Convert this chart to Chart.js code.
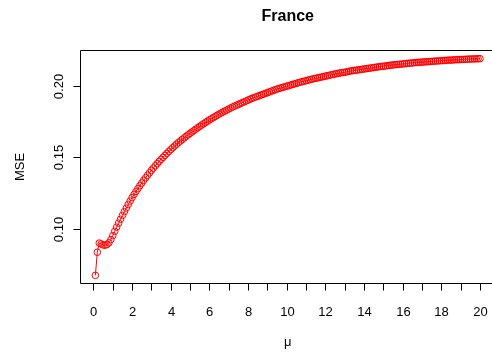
<!DOCTYPE html>
<html>
<head>
<meta charset="utf-8">
<script src="https://cdn.jsdelivr.net/npm/chart.js@4/dist/chart.umd.min.js"></script>
<style>
  html, body { margin: 0; padding: 0; background: #fff; }
  canvas { display: block; }
</style>
</head>
<body>
<canvas id="franceMse" width="492" height="358"></canvas>
<script>
const Title = 'France';
const XTitle = 'μ';
const YTitle = 'MSE';

// mu grid (x) and MSE values
const Mu = [
  0.1, 0.2, 0.3, 0.4, 0.5, 0.6, 0.7, 0.8, 0.9, 1.0,
  1.1, 1.2, 1.3, 1.4, 1.5, 1.6, 1.7, 1.8, 1.9, 2.0,
  2.1, 2.2, 2.3, 2.4, 2.5, 2.6, 2.7, 2.8, 2.9, 3.0,
  3.1, 3.2, 3.3, 3.4, 3.5, 3.6, 3.7, 3.8, 3.9, 4.0,
  4.1, 4.2, 4.3, 4.4, 4.5, 4.6, 4.7, 4.8, 4.9, 5.0,
  5.1, 5.2, 5.3, 5.4, 5.5, 5.6, 5.7, 5.8, 5.9, 6.0,
  6.1, 6.2, 6.3, 6.4, 6.5, 6.6, 6.7, 6.8, 6.9, 7.0,
  7.1, 7.2, 7.3, 7.4, 7.5, 7.6, 7.7, 7.8, 7.9, 8.0,
  8.1, 8.2, 8.3, 8.4, 8.5, 8.6, 8.7, 8.8, 8.9, 9.0,
  9.1, 9.2, 9.3, 9.4, 9.5, 9.6, 9.7, 9.8, 9.9, 10.0,
  10.1, 10.2, 10.3, 10.4, 10.5, 10.6, 10.7, 10.8, 10.9, 11.0,
  11.1, 11.2, 11.3, 11.4, 11.5, 11.6, 11.7, 11.8, 11.9, 12.0,
  12.1, 12.2, 12.3, 12.4, 12.5, 12.6, 12.7, 12.8, 12.9, 13.0,
  13.1, 13.2, 13.3, 13.4, 13.5, 13.6, 13.7, 13.8, 13.9, 14.0,
  14.1, 14.2, 14.3, 14.4, 14.5, 14.6, 14.7, 14.8, 14.9, 15.0,
  15.1, 15.2, 15.3, 15.4, 15.5, 15.6, 15.7, 15.8, 15.9, 16.0,
  16.1, 16.2, 16.3, 16.4, 16.5, 16.6, 16.7, 16.8, 16.9, 17.0,
  17.1, 17.2, 17.3, 17.4, 17.5, 17.6, 17.7, 17.8, 17.9, 18.0,
  18.1, 18.2, 18.3, 18.4, 18.5, 18.6, 18.7, 18.8, 18.9, 19.0,
  19.1, 19.2, 19.3, 19.4, 19.5, 19.6, 19.7, 19.8, 19.9, 20.0
];
const Mse = [
  0.0678, 0.0839, 0.0903, 0.0897, 0.0890, 0.0888, 0.0893, 0.0905, 0.0927, 0.0955,
  0.0985, 0.1014, 0.1042, 0.1069, 0.1096, 0.1122, 0.1147, 0.1172, 0.1196, 0.1220,
  0.1242, 0.1263, 0.1283, 0.1303, 0.1322, 0.1341, 0.1359, 0.1376, 0.1393, 0.1410,
  0.1426, 0.1442, 0.1457, 0.1472, 0.1487, 0.1501, 0.1515, 0.1529, 0.1542, 0.1555,
  0.1568, 0.1580, 0.1592, 0.1604, 0.1615, 0.1626, 0.1637, 0.1648, 0.1658, 0.1668,
  0.1678, 0.1688, 0.1698, 0.1708, 0.1717, 0.1726, 0.1735, 0.1744, 0.1753, 0.1762,
  0.1770, 0.1778, 0.1786, 0.1794, 0.1802, 0.1810, 0.1817, 0.1824, 0.1831, 0.1838,
  0.1845, 0.1852, 0.1858, 0.1864, 0.1870, 0.1876, 0.1882, 0.1888, 0.1894, 0.1900,
  0.1906, 0.1912, 0.1917, 0.1922, 0.1927, 0.1932, 0.1937, 0.1942, 0.1947, 0.1952,
  0.1957, 0.1962, 0.1967, 0.1972, 0.1977, 0.1981, 0.1985, 0.1989, 0.1993, 0.1997,
  0.2001, 0.2005, 0.2009, 0.2013, 0.2017, 0.2021, 0.2025, 0.2029, 0.2032, 0.2035,
  0.2039, 0.2043, 0.2046, 0.2049, 0.2052, 0.2055, 0.2058, 0.2061, 0.2064, 0.2067,
  0.2070, 0.2073, 0.2076, 0.2079, 0.2082, 0.2085, 0.2088, 0.2090, 0.2092, 0.2094,
  0.2097, 0.2100, 0.2103, 0.2105, 0.2107, 0.2109, 0.2111, 0.2113, 0.2115, 0.2117,
  0.2119, 0.2121, 0.2123, 0.2125, 0.2127, 0.2129, 0.2131, 0.2133, 0.2135, 0.2136,
  0.2138, 0.2140, 0.2142, 0.2144, 0.2145, 0.2147, 0.2148, 0.2150, 0.2151, 0.2152,
  0.2154, 0.2155, 0.2157, 0.2158, 0.2159, 0.2161, 0.2162, 0.2163, 0.2164, 0.2165,
  0.2166, 0.2167, 0.2168, 0.2169, 0.2170, 0.2171, 0.2172, 0.2173, 0.2174, 0.2175,
  0.2176, 0.2177, 0.2178, 0.2179, 0.2179, 0.2180, 0.2181, 0.2182, 0.2182, 0.2183,
  0.2184, 0.2184, 0.2185, 0.2186, 0.2186, 0.2187, 0.2187, 0.2188, 0.2188, 0.2189
];

const XTicks = [0, 1, 2, 3, 4, 5, 6, 7, 8, 9, 10, 11, 12, 13, 14, 15, 16, 17, 18, 19, 20];
const XTickLabels = ['0', '', '2', '', '4', '', '6', '', '8', '', '10', '', '12', '', '14', '', '16', '', '18', '', '20'];
const YTicks = [0.10, 0.15, 0.20];
const YTickLabels = ['0.10', '0.15', '0.20'];

const FontFam = '"Liberation Sans", Arial, Helvetica, sans-serif';

// R style box, ticks and labels, drawn from the chart's own scales
const RAxes = {
  id: 'rAxes',
  afterDraw(chart) {
    const c = chart.ctx;
    const a = chart.chartArea;
    const xs = chart.scales.x;
    const ys = chart.scales.y;
    c.save();
    c.strokeStyle = '#000';
    c.lineWidth = 1;

    // box (right side falls outside the canvas)
    c.beginPath();
    c.moveTo(a.right + 5, a.top + 0.5);
    c.lineTo(a.left + 0.5, a.top + 0.5);
    c.lineTo(a.left + 0.5, a.bottom - 0.5);
    c.lineTo(a.right + 5, a.bottom - 0.5);
    c.stroke();

    // x ticks
    c.fillStyle = '#000';
    c.font = '13px ' + FontFam;
    c.textAlign = 'center';
    c.textBaseline = 'alphabetic';
    XTicks.forEach(function (t, i) {
      const px = Math.round(xs.getPixelForValue(t)) + 0.5;
      c.beginPath();
      c.moveTo(px, a.bottom - 0.5);
      c.lineTo(px, a.bottom + 6.5);
      c.stroke();
      if (XTickLabels[i]) c.fillText(XTickLabels[i], px, 316);
    });

    // y ticks, labels turned like R's las=0
    YTicks.forEach(function (t, i) {
      const py = Math.round(ys.getPixelForValue(t)) + 0.5;
      c.beginPath();
      c.moveTo(a.left + 0.5, py);
      c.lineTo(a.left - 6.5, py);
      c.stroke();
      c.save();
      c.translate(63, py);
      c.rotate(-Math.PI / 2);
      c.fillText(YTickLabels[i], 0, 0);
      c.restore();
    });

    const midX = (a.left + xs.getPixelForValue(20.8)) / 2;
    const midY = (a.top + a.bottom) / 2;

    c.fillText(XTitle, midX, 346);
    c.save();
    c.translate(24, midY);
    c.rotate(-Math.PI / 2);
    c.fillText(YTitle, 0, 0);
    c.restore();

    c.font = 'bold 16px ' + FontFam;
    c.fillText(Title, midX, 21);
    c.restore();
  }
};

function CreateMseChart() {
  var ctx = document.getElementById('franceMse').getContext('2d');
  var points = Mu.map(function (m, i) { return { x: m, y: Mse[i] }; });
  var myChart = new Chart(ctx, {
    type: 'line',
    data: {
      datasets: [{
        label: YTitle,
        data: points,
        borderColor: '#ff0000',
        borderWidth: 1,
        pointStyle: 'circle',
        pointRadius: 3.3,
        pointBorderWidth: 1,
        pointBorderColor: '#ff0000',
        pointBackgroundColor: 'rgba(0,0,0,0)',
        fill: false,
        tension: 0
      }]
    },
    options: {
      responsive: false,
      animation: false,
      devicePixelRatio: 1,
      layout: { autoPadding: false, padding: { left: 80, top: 50, right: 0, bottom: 74 } },
      scales: {
        x: { type: 'linear', min: -0.696, max: 20.62, display: false },
        y: { type: 'linear', min: 0.06176, max: 0.22494, display: false }
      },
      plugins: {
        legend: { display: false },
        tooltip: { enabled: false },
        title: { display: false }
      }
    },
    plugins: [RAxes]
  });
}

CreateMseChart();
</script>
</body>
</html>
